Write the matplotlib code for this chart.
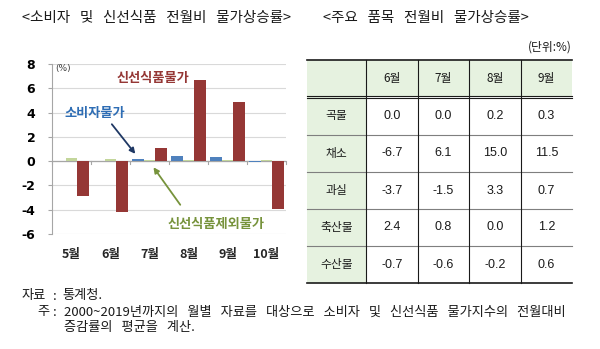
import matplotlib
matplotlib.use("Agg")
import matplotlib.pyplot as plt
from matplotlib.patches import Rectangle
import numpy as np

plt.rcParams['font.family'] = ['Noto Sans CJK KR', 'DejaVu Sans']

# Chart data: month-over-month price change (%)
months = ['5월', '6월', '7월', '8월', '9월', '10월']
cpi = [0.05, 0.0, 0.2, 0.45, 0.35, -0.1]
cpi_ex_fresh = [0.25, 0.15, 0.1, 0.1, 0.1, 0.1]
fresh_food = [-2.9, -4.2, 1.1, 6.65, 4.85, -3.95]
yticks = [-6, -4, -2, 0, 2, 4, 6, 8]

# Table data: major items, month-over-month (%)
table_cols = ['6월', '7월', '8월', '9월']
table_rows = ['곡물', '채소', '과실', '축산물', '수산물']
table_vals = [
    ['0.0', '0.0', '0.2', '0.3'],
    ['-6.7', '6.1', '15.0', '11.5'],
    ['-3.7', '-1.5', '3.3', '0.7'],
    ['2.4', '0.8', '0.0', '1.2'],
    ['-0.7', '-0.6', '-0.2', '0.6'],
]

W, H = 600, 349
fig = plt.figure(figsize=(W / 100, H / 100), dpi=100)


def wide(s, n):
    """Widen the gaps between words."""
    return s.replace(' ', ' ' * n)


def fx(px):
    return px / W


def fy(py):
    return 1 - py / H


# ---- bar chart ----
ax = fig.add_axes([fx(52), fy(234), fx(286) - fx(52), fy(64) - fy(234)])
x = np.arange(len(months))
bw = 0.3
c_blue = '#4f81bd'
c_green = '#c3d69b'
c_red = '#953735'
ax.bar(x - bw, cpi, bw, color=c_blue, zorder=3)
ax.bar(x, cpi_ex_fresh, bw, color=c_green, zorder=3)
ax.bar(x + bw, fresh_food, bw, color=c_red, zorder=3)

ax.set_xlim(-0.5, len(months) - 0.5)
ax.set_ylim(-6, 8)
ax.set_yticks(yticks)
ax.set_yticklabels([str(t) for t in yticks], fontweight='bold', fontsize=9,
                   family=['DejaVu Sans'])
ax.yaxis.grid(True, color='#d9d9d9', linewidth=0.8, zorder=0)
ax.tick_params(axis='y', length=3, color='#a6a6a6', pad=9)
ax.set_xticks([])
for s in ['top', 'right', 'bottom']:
    ax.spines[s].set_visible(False)
ax.spines['left'].set_color('#a6a6a6')
ax.axhline(0, color='#a6a6a6', linewidth=0.9, zorder=2)
for b in np.arange(-0.5, len(months), 1.0):
    ax.plot([b, b], [0, -0.2], color='#a6a6a6', linewidth=0.8, zorder=2,
            clip_on=False)

for i, m in enumerate(months):
    ax.text(i, -7.65, m, ha='center', va='center', fontsize=9,
            fontweight='bold', color='#262626')

ax.text(-0.42, 7.65, '(%)', fontsize=6.5, color='#404040', ha='left', va='center',
        family=['DejaVu Sans'])

ax.text(2.09, 6.85, '신선식품물가', color=c_red, fontsize=9.5, fontweight='bold',
        ha='center', va='center')
ax.text(0.6, 3.96, '소비자물가', color='#2e6db4', fontsize=9.5, fontweight='bold',
        ha='center', va='center')
ax.text(3.7, -5.18, '신선식품제외물가', color='#77933c', fontsize=9.5,
        fontweight='bold', ha='center', va='center')
ax.annotate('', xy=(1.68, 0.42), xytext=(0.99, 3.22),
            arrowprops=dict(arrowstyle='-|>', color='#1f3864', lw=1.3,
                            mutation_scale=8))
ax.annotate('', xy=(2.06, -0.32), xytext=(2.83, -3.78),
            arrowprops=dict(arrowstyle='-|>', color='#77933c', lw=1.3,
                            mutation_scale=8))

# ---- titles ----
fig.text(fx(22), fy(18), wide('<소비자 및 신선식품 전월비 물가상승률>', 3), fontsize=10.5,
         ha='left', va='center', color='#1a1a1a')
fig.text(fx(323), fy(18), wide('<주요 품목 전월비 물가상승률>', 3), fontsize=10.5,
         ha='left', va='center', color='#1a1a1a')
fig.text(fx(572), fy(47), '(단위:%)', fontsize=8.5, ha='right', va='center',
         color='#1a1a1a')

# ---- table ----
tax = fig.add_axes([0, 0, 1, 1])
tax.set_xlim(0, W)
tax.set_ylim(H, 0)
tax.axis('off')

col_x = [307, 366, 418, 469, 521, 572]
row_y = [60, 97, 135, 172, 209, 246, 283]
fill = '#e6f2e0'

tax.add_patch(Rectangle((col_x[0], row_y[0]), col_x[-1] - col_x[0],
                        row_y[1] - row_y[0], facecolor=fill, edgecolor='none'))
tax.add_patch(Rectangle((col_x[0], row_y[1]), col_x[1] - col_x[0],
                        row_y[-1] - row_y[1], facecolor=fill, edgecolor='none'))

tax.plot([col_x[0], col_x[-1]], [row_y[0], row_y[0]], color='#1a1a1a', lw=1.2)
tax.plot([col_x[0], col_x[-1]], [row_y[-1], row_y[-1]], color='#1a1a1a', lw=1.2)
tax.plot([col_x[0], col_x[-1]], [row_y[1] - 1, row_y[1] - 1], color='#1a1a1a', lw=0.8)
tax.plot([col_x[0], col_x[-1]], [row_y[1] + 1, row_y[1] + 1], color='#1a1a1a', lw=0.8)
for yy in row_y[2:-1]:
    tax.plot([col_x[0], col_x[-1]], [yy, yy], color='#7f7f7f', lw=0.8)
for xx in col_x[1:-1]:
    tax.plot([xx, xx], [row_y[0], row_y[-1]], color='#1a1a1a', lw=0.8)

for j, c in enumerate(table_cols):
    cx = (col_x[j + 1] + col_x[j + 2]) / 2
    tax.text(cx, (row_y[0] + row_y[1]) / 2, c, ha='center', va='center',
             fontsize=8.5, color='#1a1a1a')
for i, r in enumerate(table_rows):
    cy = (row_y[i + 1] + row_y[i + 2]) / 2
    tax.text((col_x[0] + col_x[1]) / 2, cy, r, ha='center', va='center',
             fontsize=8.5, color='#1a1a1a')
    for j, v in enumerate(table_vals[i]):
        cx = (col_x[j + 1] + col_x[j + 2]) / 2
        tax.text(cx, cy, v, ha='center', va='center', fontsize=9,
                 color='#1a1a1a', family=['Liberation Sans'])

# ---- notes ----
note_kw = dict(fontsize=9.5, va='center', color='#1a1a1a')
tax.text(22, 296, '자료', ha='left', **note_kw)
tax.text(55, 296, ':', ha='center', **note_kw)
tax.text(62, 296, '통계청.', ha='left', **note_kw)
tax.text(37, 312, '주', ha='left', **note_kw)
tax.text(55, 312, ':', ha='center', **note_kw)
tax.text(64, 312, wide('2000~2019년까지의 월별 자료를 대상으로 소비자 및 신선식품 물가지수의 전월대비', 3),
         ha='left', **note_kw)
tax.text(64, 327, wide('증감률의 평균을 계산.', 3), ha='left', **note_kw)

fig.savefig('out.png', dpi=100)
